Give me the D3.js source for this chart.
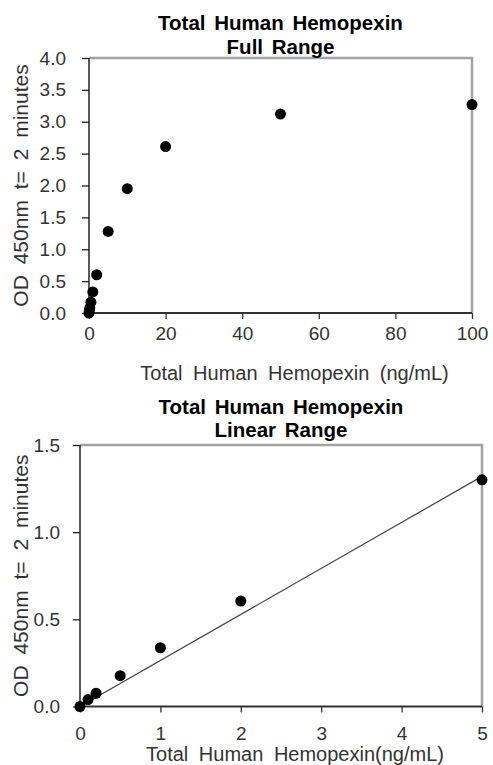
<!DOCTYPE html>
<meta charset="utf-8">
<html>
<head>
    <title>Total Human Hemopexin standard curves</title>
    <script src="https://cdn.jsdelivr.net/npm/d3@7"></script>
</head>
<style>
    body{
        margin: 0;
        background: white;
    }
    svg{
        display: block;
    }
    text{
        font-family: "Liberation Sans", Arial, sans-serif;
    }
    .tick text{
        fill: #333;
        font-size: 19px;
    }
    .title{
        font-weight: bold;
        font-size: 20.5px;
        fill: #000;
        word-spacing: 3px;
    }
    .axis-title{
        font-size: 20px;
        fill: #333;
        word-spacing: 5px;
    }
    .y-title{
        font-size: 21px;
    }
</style>
<body>
<svg width="493" height="765"></svg>

<script>
    // full range data
    const fullConc = [0, 0.1, 0.2, 0.5, 1, 2, 5, 10, 20, 50, 100];
    const fullOD = [0.0, 0.04, 0.08, 0.17, 0.33, 0.6, 1.28, 1.95, 2.61, 3.12, 3.27];
    const fullXTicks = [0, 20, 40, 60, 80, 100];
    const fullYTicks = [0, 0.5, 1, 1.5, 2, 2.5, 3, 3.5, 4];

    // linear range data
    const linConc = [0, 0.1, 0.2, 0.5, 1, 2, 5];
    const linOD = [0.0, 0.04, 0.076, 0.177, 0.337, 0.605, 1.30];
    const linXTicks = [0, 1, 2, 3, 4, 5];
    const linYTicks = [0, 0.5, 1, 1.5];
    // trend line end points
    const trendX = [0, 5];
    const trendY = [0, 1.32];

    const svg = d3.select("svg");

    function drawChart(cfg){
        const x = d3.scaleLinear().domain(cfg.xDomain).range([cfg.left, cfg.right]);
        const y = d3.scaleLinear().domain(cfg.yDomain).range([cfg.bottom, cfg.top]);
        const g = svg.append("g");

        // gray frame on top and right
        g.append("path")
            .attr("d", `M${cfg.left},${cfg.top}H${cfg.right}V${cfg.bottom}`)
            .attr("fill", "none")
            .attr("stroke", "#a3a3a3")
            .attr("stroke-width", 2.5);

        // x axis
        const xAxis = g.append("g")
            .attr("transform", `translate(0,${cfg.bottom})`)
            .call(d3.axisBottom(x).tickValues(cfg.xTicks).tickSize(6).tickPadding(cfg.xPad)
                .tickFormat(d3.format("d")));
        xAxis.selectAll(".tick line").attr("stroke", "#333").attr("stroke-width", 1.3);

        // y axis
        const yAxis = g.append("g")
            .attr("transform", `translate(${cfg.left},0)`)
            .call(d3.axisLeft(y).tickValues(cfg.yTicks).tickSize(7).tickPadding(cfg.yPad)
                .tickFormat(d3.format(".1f")));
        yAxis.selectAll(".tick line").attr("stroke", "#222").attr("stroke-width", 1.3);

        // plain domain lines, no end caps
        xAxis.select(".domain").attr("d", `M${cfg.left},0H${cfg.right}`)
            .attr("stroke", "#333").attr("stroke-width", 2);
        yAxis.select(".domain").attr("d", `M0,${cfg.bottom}V${cfg.top}`)
            .attr("stroke", "#222").attr("stroke-width", 1.5);

        // trend line
        if(cfg.trend){
            g.append("line")
                .attr("x1", x(cfg.trend[0][0])).attr("y1", y(cfg.trend[1][0]))
                .attr("x2", x(cfg.trend[0][1])).attr("y2", y(cfg.trend[1][1]))
                .attr("stroke", "#444")
                .attr("stroke-width", 1.2);
        }

        // points
        g.selectAll("circle.pt")
            .data(cfg.xs.map((d,i)=>[d, cfg.ys[i]]))
            .join("circle")
            .attr("class", "pt")
            .attr("cx", d=>x(d[0]))
            .attr("cy", d=>y(d[1]))
            .attr("r", 5.5)
            .attr("fill", "#000");

        // titles
        const cx = (cfg.left + cfg.right) / 2;
        cfg.title.forEach((t,i)=>{
            g.append("text")
                .attr("class", "title")
                .attr("x", cx)
                .attr("y", cfg.titleY[i])
                .attr("text-anchor", "middle")
                .text(t);
        });
        g.append("text")
            .attr("class", "axis-title")
            .attr("x", cx + 14)
            .attr("y", cfg.xTitleY)
            .attr("text-anchor", "middle")
            .text(cfg.xTitle);
        g.append("text")
            .attr("class", "axis-title y-title")
            .attr("transform", `translate(28,${(cfg.top + cfg.bottom) / 2}) rotate(-90)`)
            .attr("text-anchor", "middle")
            .text("OD 450nm t= 2 minutes");
    }

    drawChart({
        xs: fullConc, ys: fullOD,
        xDomain: [0, 100], yDomain: [0, 4],
        xTicks: fullXTicks, yTicks: fullYTicks,
        left: 89, right: 472, top: 58, bottom: 313,
        xPad: 8, yPad: 16,
        title: ["Total Human Hemopexin", "Full Range"],
        titleY: [30, 54],
        xTitle: "Total Human Hemopexin (ng/mL)",
        xTitleY: 380
    });

    drawChart({
        xs: linConc, ys: linOD,
        xDomain: [0, 5], yDomain: [0, 1.5],
        xTicks: linXTicks, yTicks: linYTicks,
        left: 80, right: 482, top: 445, bottom: 706.5,
        xPad: 14, yPad: 13,
        title: ["Total Human Hemopexin", "Linear Range"],
        titleY: [414, 437],
        xTitle: "Total Human Hemopexin(ng/mL)",
        xTitleY: 761,
        trend: [trendX, trendY]
    });
</script>
</body>
</html>
